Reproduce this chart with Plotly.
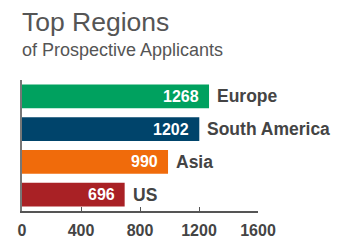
import plotly.graph_objects as go

regions = ["Europe", "South America", "Asia", "US"]
applicants = [1268, 1202, 990, 696]
bar_colors = ["#00A15F", "#00446B", "#F06B0B", "#A92125"]
tick_values = [0, 400, 800, 1200, 1600]
tick_labels = ["0", "400", "800", "1200", "1600"]

FONT = "Liberation Sans, Arial, sans-serif"

fig = go.Figure()
fig.add_trace(go.Bar(
    x=applicants, y=regions, orientation="h",
    marker=dict(color=bar_colors, line=dict(width=0)),
    hoverinfo="skip",
))

annotations = []
for r, v in zip(regions, applicants):
    annotations.append(dict(x=v, y=r, xref="x", yref="y", text=f"<b>{v}</b>",
                            showarrow=False, xanchor="right", xshift=-8,
                            font=dict(family=FONT, size=16, color="white")))
    annotations.append(dict(x=v, y=r, xref="x", yref="y", text=f"<b>{r}</b>",
                            showarrow=False, xanchor="left", xshift=6,
                            font=dict(family=FONT, size=17.5, color="#444444")))

annotations.append(dict(x=0, y=1, xref="paper", yref="paper", text="Top Regions",
                        showarrow=False, xanchor="left", yanchor="bottom",
                        xshift=-2, yshift=41,
                        font=dict(family=FONT, size=26.5, color="#555555")))
annotations.append(dict(x=0, y=1, xref="paper", yref="paper", text="of Prospective Applicants",
                        showarrow=False, xanchor="left", yanchor="bottom",
                        xshift=-2, yshift=18.5,
                        font=dict(family=FONT, size=18, color="#555555")))

fig.update_layout(
    width=360, height=240,
    margin=dict(l=22, r=102, t=79.5, b=29, pad=0, autoexpand=False),
    paper_bgcolor="white", plot_bgcolor="white",
    showlegend=False,
    bargap=0.27,
    annotations=annotations,
    font=dict(family=FONT),
    xaxis=dict(range=[0, 1600], tickvals=tick_values, ticktext=[f"<b>{t}</b>" for t in tick_labels],
               showgrid=False, zeroline=False, showline=True, linecolor="#555555", linewidth=1.5,
               ticks="inside", ticklen=4, tickcolor="#555555", tickwidth=1,
               tickfont=dict(family=FONT, size=16, color="#444444"), ticklabelstandoff=4,
               automargin=False, fixedrange=True),
    yaxis=dict(categoryorder="array", categoryarray=regions, autorange="reversed",
               showgrid=False, zeroline=False, showline=True, linecolor="#777777", linewidth=1.5,
               showticklabels=False, ticks="", automargin=False, fixedrange=True),
)

fig.write_html("out.html", config=dict(displayModeBar=False))
